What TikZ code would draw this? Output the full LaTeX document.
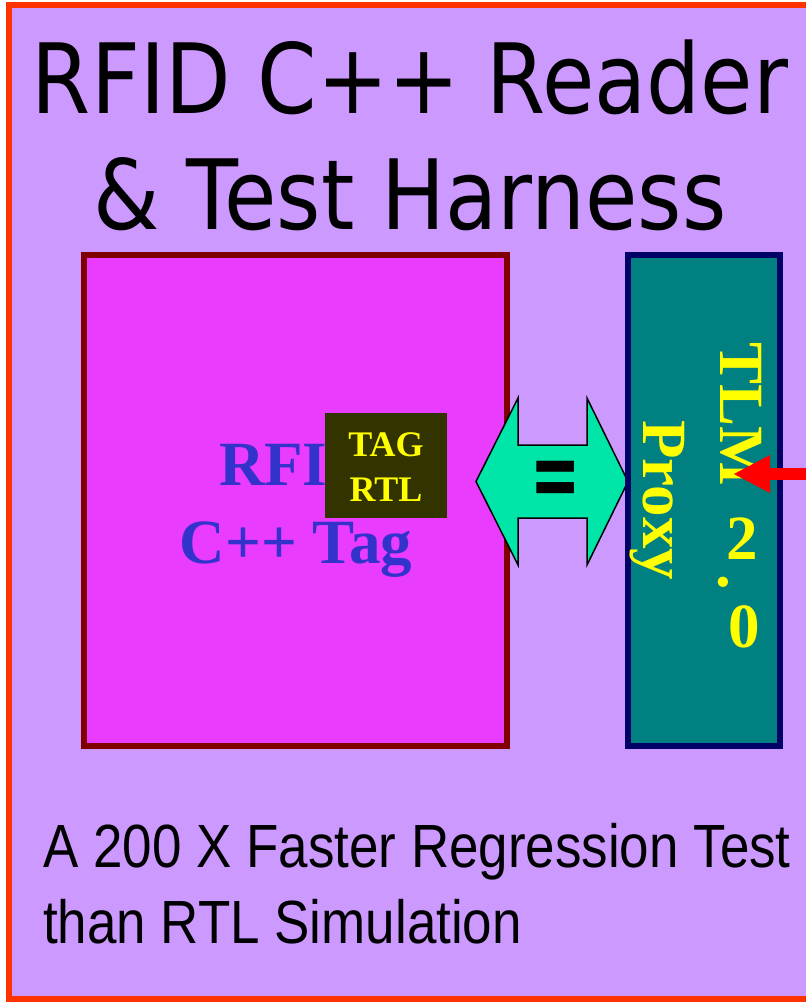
\documentclass[tikz,border=0pt]{standalone}
\usepackage{fontspec}
\setmainfont{Liberation Serif}
\newfontfamily\rfTitleFont{DejaVu Sans}
\newfontfamily\rfNoteFont{Liberation Sans}
\usetikzlibrary{arrows.meta}
\definecolor{rfLav}{HTML}{CC99FF}
\definecolor{rfFrame}{HTML}{FF3300}
\definecolor{rfMagenta}{HTML}{EA3CFF}
\definecolor{rfMaroon}{HTML}{800000}
\definecolor{rfBlue}{HTML}{3333CC}
\definecolor{rfOlive}{HTML}{333300}
\definecolor{rfYellow}{HTML}{FFFF00}
\definecolor{rfTeal}{HTML}{008080}
\definecolor{rfNavy}{HTML}{000066}
\definecolor{rfAqua}{HTML}{00E5A8}
\tikzset{
  rf frame/.style={draw=rfFrame, fill=rfLav, line width=6pt},
  rf tagbox/.style={draw=rfMaroon, fill=rfMagenta, line width=6pt, minimum width=423pt, minimum height=491pt, inner sep=0pt},
  rf proxybox/.style={draw=rfNavy, fill=rfTeal, line width=6pt, minimum width=152pt, minimum height=491.6pt, inner sep=0pt},
  rf rtlbox/.style={fill=rfOlive, minimum width=121.7pt, minimum height=105pt, inner sep=0pt},
  rf title/.style={font=\rfTitleFont\fontsize{97}{116}\selectfont, inner sep=0pt, anchor=base, xscale=0.8775, transform shape},
  rf note/.style={font=\rfNoteFont\fontsize{61}{76}\selectfont, inner sep=0pt, anchor=base west, xscale=0.868, transform shape},
  rf blue label/.style={font=\bfseries\fontsize{63}{78}\selectfont, text=rfBlue, inner sep=0pt, anchor=base},
  rf yellow label/.style={font=\bfseries\fontsize{63}{78}\selectfont, text=rfYellow, inner sep=0pt},
  rf small label/.style={font=\bfseries\fontsize{36}{45}\selectfont, text=rfYellow, inner sep=0pt, anchor=base},
  rf equiv/.style={draw=black, fill=rfAqua, line width=1.5pt, line join=miter},
  rf reader arrow/.style={draw=red, line width=12.7pt, -{Triangle[length=37pt, width=35pt]}},
}

\begin{document}
\begin{tikzpicture}[x=1pt, y=-1pt]
  \useasboundingbox (0,0) rectangle (806,1002);
  \fill[white] (0,0) rectangle (806,1002);
  \clip (0,0) rectangle (806,1002);

  % slide background
  \draw[rf frame] (8.5,5) rectangle (900,999);

  % title
  \node[rf title] (title1) at (410,113) {RFID C++ Reader};
  \node[rf title] (title2) at (410,229) {\& Test Harness};

  % left: C++ tag model with the RTL tag inside
  \node[rf tagbox] (tag) at (295.5,500.5) {};
  \node[rf blue label] (tagname1) at (296,485) {RFID};
  \node[rf blue label] (tagname2) at (296,563) {C++ Tag};
  \node[rf rtlbox] (rtl) at (386,465.8) {};
  \node[rf small label] (rtl1) at (386,456.7) {TAG};
  \node[rf small label] (rtl2) at (386,501.7) {RTL};

  % equivalence arrow
  \draw[rf equiv] (476,481.5) -- (518,398) -- (518,445) -- (587,445) -- (587,398)
    -- (628,481.5) -- (587,565) -- (587,518) -- (518,518) -- (518,565) -- cycle;
  \node[font=\rfTitleFont\bfseries\fontsize{60}{60}\selectfont, inner sep=0pt,
    yscale=1.6, transform shape] (equal) at (555.5,484.5) {=};

  % right: TLM 2.0 proxy
  \node[rf proxybox] (proxy) at (704,500.5) {};
  \node[rf yellow label, rotate=-90, anchor=base west] (proxyname) at (643,420) {Proxy};
  \node[rf yellow label, rotate=-90, anchor=base west] (tlm) at (720,342) {TLM};
  \node[rf yellow label, anchor=base] (two) at (742.5,559) {2};
  \node[rf yellow label, anchor=base] (dot) at (723,586) {.};
  \node[rf yellow label, anchor=base] (zero) at (744,647) {0};

  % link from the reader
  \coordinate (reader) at (830,474);
  \coordinate (tlmport) at (733,474);
  \draw[rf reader arrow] (reader) -- (tlmport);

  % bottom note
  \node[rf note] (note1) at (43,867) {A 200 X Faster Regression Test};
  \node[rf note] (note2) at (43,943) {than RTL Simulation};
\end{tikzpicture}
\end{document}
